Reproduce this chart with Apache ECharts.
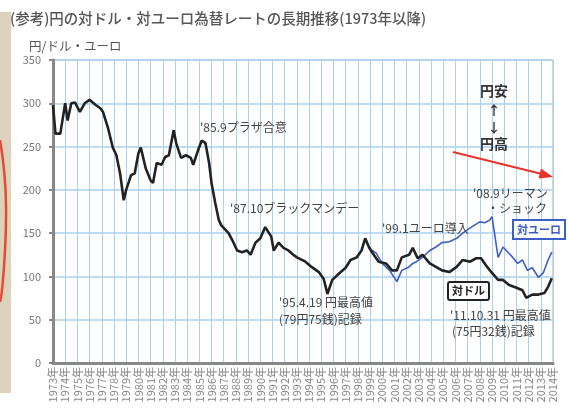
<!DOCTYPE html>
<html>
<head>
<meta charset="utf-8">
<script src="https://cdn.jsdelivr.net/npm/echarts@6/dist/echarts.min.js"></script>
<style>
  html, body { margin: 0; padding: 0; background: #fff; }
  #chart { width: 568px; height: 414px; }
</style>
</head>
<body>
<div id="chart"></div>
<script>
// 円/ドル (decimal year, yen per dollar)
var usdYears = [
  1973.0, 1973.2, 1973.6, 1974.0, 1974.2, 1974.5, 1974.8, 1975.2, 1975.6, 1976.0,
  1976.5, 1976.9, 1977.1, 1977.5, 1977.9, 1978.2, 1978.5, 1978.8, 1979.0, 1979.4,
  1979.7, 1980.0, 1980.2, 1980.6, 1981.0, 1981.2, 1981.5, 1981.9, 1982.2, 1982.5,
  1982.9, 1983.1, 1983.5, 1983.9, 1984.3, 1984.5, 1984.9, 1985.2, 1985.5, 1985.8,
  1986.0, 1986.3, 1986.6, 1986.8, 1987.4, 1987.7, 1988.1, 1988.5, 1988.9, 1989.2,
  1989.6, 1990.0, 1990.4, 1990.9, 1991.1, 1991.5, 1991.9, 1992.3, 1992.8, 1993.0,
  1993.7, 1994.2, 1994.8, 1995.2, 1995.5, 1995.9, 1996.5, 1997.0, 1997.4, 1997.9,
  1998.3, 1998.6, 1998.9, 1999.2, 1999.7, 2000.3, 2000.8, 2001.2, 2001.6, 2002.2,
  2002.5, 2002.9, 2003.3, 2003.9, 2004.4, 2004.9, 2005.5, 2006.1, 2006.6, 2007.2,
  2007.7, 2008.1, 2008.6, 2009.0, 2009.5, 2009.9, 2010.4, 2011.0, 2011.5, 2011.8,
  2012.3, 2012.8, 2013.3, 2013.6, 2013.9
];
var usdRates = [
  298, 265, 265, 300, 280, 300, 301, 290, 300, 304,
  298, 294, 290, 272, 249, 240, 219, 188, 200, 217,
  219, 242, 249, 225, 211, 208, 231, 229, 238, 240,
  269, 254, 237, 240, 237, 229, 246, 257, 254, 231,
  208, 185, 165, 159, 150, 142, 130, 128, 130, 125,
  139, 144, 157, 146, 130, 139, 133, 130, 124, 122,
  117, 111, 105, 97, 79.75, 96, 104, 110, 119, 122,
  130, 144, 134, 127, 117, 115, 107, 107, 122, 125,
  133, 121, 125, 115, 111, 107, 105, 111, 119, 117,
  121, 121, 111, 104, 96, 96, 90, 87, 84, 75.32,
  79, 79, 81, 88, 98
];

// 円/ユーロ (decimal year, yen per euro)
var eurYears = [
  1998.9, 1999.5, 2000.0, 2000.6, 2001.2, 2001.6, 2002.2, 2002.5, 2002.8, 2003.3,
  2003.9, 2004.4, 2004.9, 2005.5, 2006.1, 2006.6, 2007.3, 2008.0, 2008.4, 2008.8,
  2009.0, 2009.2, 2009.5, 2009.9, 2010.3, 2010.7, 2011.1, 2011.5, 2011.9, 2012.3,
  2012.8, 2013.2, 2013.6, 2013.9
];
var eurRates = [
  133, 127, 115, 107, 94, 107, 111, 115, 117, 122,
  130, 134, 139, 140, 144, 150, 157, 163, 162, 165,
  169, 150, 122, 134, 128, 122, 115, 119, 107, 110,
  99, 104, 119, 128
];

var yTicks = [0, 50, 100, 150, 200, 250, 300, 350];
var yearStart = 1973;
var yearEnd = 2014;

function pairs(xs, ys) {
  return xs.map(function (x, i) { return [x, ys[i]]; });
}

var FONT = '"Noto Sans CJK JP", "Noto Sans", sans-serif';
var chart = echarts.init(document.getElementById('chart'), null, { renderer: 'canvas' });

// text placed by its anchor point (x, y) with given horizontal alignment
function label(text, x, y, opts) {
  opts = opts || {};
  return {
    type: 'text', x: x, y: y, z: 50,
    style: {
      text: text,
      fill: opts.color || '#444',
      font: (opts.weight || 'normal') + ' ' + (opts.size || 12) + 'px ' + FONT,
      align: opts.align || 'left',
      verticalAlign: 'middle'
    }
  };
}

chart.setOption({
  animation: false,
  backgroundColor: '#fff',
  grid: {
    left: 53, right: 15, top: 60, bottom: 51,
    containLabel: false, outerBoundsMode: 'none',
    show: true, borderColor: '#aaa', borderWidth: 1
  },
  xAxis: {
    type: 'value', min: yearStart, max: yearEnd, interval: 1,
    axisLine: { show: true, onZero: false, lineStyle: { color: '#888', width: 3 } },
    axisTick: { show: false },
    splitLine: { show: true, lineStyle: { color: '#a9d1f0', width: 1 } },
    axisLabel: {
      rotate: 90, margin: 4, fontSize: 11, color: '#888', fontFamily: FONT,
      formatter: function (v) { return v + '年'; }
    }
  },
  yAxis: {
    type: 'value', min: yTicks[0], max: yTicks[yTicks.length - 1], interval: 50,
    axisLine: { show: true, lineStyle: { color: '#888', width: 3 } },
    axisTick: { show: true, inside: false, length: 4, lineStyle: { color: '#888', width: 2 } },
    splitLine: { show: true, lineStyle: { color: '#a9d1f0', width: 1.5 } },
    axisLabel: { margin: 12, fontSize: 11, color: '#777', fontFamily: FONT }
  },
  series: [
    {
      name: '対ドル', type: 'line', data: pairs(usdYears, usdRates),
      showSymbol: false, z: 5,
      lineStyle: { color: '#222', width: 2.6 }
    },
    {
      name: '対ユーロ', type: 'line', data: pairs(eurYears, eurRates),
      showSymbol: false, z: 4,
      lineStyle: { color: '#3d5fc4', width: 1.6 }
    }
  ],
  graphic: [
    // left panel strip
    { type: 'rect', shape: { x: 0, y: 12, width: 11, height: 381 }, style: { fill: '#ddd3bc' }, z: 1 },
    { type: 'polyline', shape: { points: [[0, 140], [4, 170], [6, 205], [5, 250], [2, 290], [0, 302]], smooth: 0.5 },
      style: { stroke: '#e84a35', lineWidth: 2.5, fill: 'none' }, z: 2 },

    // title and unit
    label('(参考)円の対ドル・対ユーロ為替レートの長期推移(1973年以降)', 10, 18, { size: 14.5, weight: '500', color: '#555' }),
    label('円/ドル・ユーロ', 29, 46, { size: 12.5, color: '#555' }),

    // event notes
    label("'85.9プラザ合意", 200, 127, { size: 12 }),
    label("'87.10ブラックマンデー", 230, 208, { size: 12 }),
    label("'99.1ユーロ導入", 382, 228, { size: 12 }),
    label("'08.9リーマン", 473, 193, { size: 12 }),
    label('・ショック', 487, 208, { size: 12 }),
    label("'95.4.19 円最高値", 279, 302, { size: 12 }),
    label('(79円75銭)記録', 279, 319, { size: 12 }),
    label("'11.10.31 円最高値", 450, 315, { size: 12 }),
    label('(75円32銭)記録', 452, 331, { size: 12 }),

    // yen weak / strong marker
    label('円安', 494, 91, { size: 14, weight: 'bold', color: '#333', align: 'center' }),
    label('↑', 494, 110, { size: 13, weight: 'bold', color: '#333', align: 'center' }),
    label('↓', 494, 127, { size: 13, weight: 'bold', color: '#333', align: 'center' }),
    label('円高', 494, 144, { size: 14, weight: 'bold', color: '#333', align: 'center' }),

    // red trend arrow
    { type: 'line', shape: { x1: 453, y1: 152, x2: 546, y2: 175 }, style: { stroke: '#e8352b', lineWidth: 2 }, z: 20 },
    { type: 'polygon', shape: { points: [[553, 177], [541, 168.5], [538.5, 178.5]] }, style: { fill: '#e8352b' }, z: 20 },

    // series tags
    { type: 'rect', shape: { x: 513, y: 220, width: 52, height: 19 }, style: { fill: '#fff', stroke: '#3d5fc4', lineWidth: 2 }, z: 30 },
    label('対ユーロ', 539, 229.5, { size: 11, weight: 'bold', color: '#3d5fc4', align: 'center' }),
    { type: 'rect', shape: { x: 448, y: 282, width: 41, height: 18, r: 2 }, style: { fill: '#fff', stroke: '#222', lineWidth: 2 }, z: 30 },
    label('対ドル', 468.5, 291, { size: 11, weight: 'bold', color: '#222', align: 'center' })
  ]
});
</script>
</body>
</html>
